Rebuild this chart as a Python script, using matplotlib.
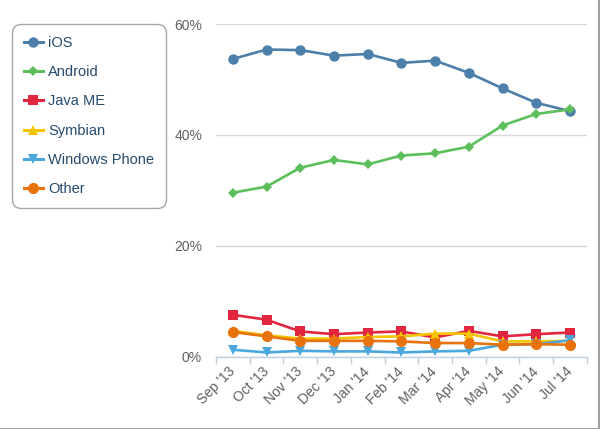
import matplotlib

matplotlib.use("Agg")
import matplotlib.pyplot as plt
from matplotlib.lines import Line2D

plt.rcParams["font.family"] = ["Liberation Sans", "DejaVu Sans"]

months = ["Sep '13", "Oct '13", "Nov '13", "Dec '13", "Jan '14", "Feb '14",
          "Mar '14", "Apr '14", "May '14", "Jun '14", "Jul '14"]

ios = [53.7, 55.4, 55.3, 54.3, 54.6, 53.0, 53.4, 51.2, 48.4, 45.8, 44.3]
android = [29.6, 30.7, 34.1, 35.5, 34.7, 36.3, 36.7, 37.9, 41.7, 43.8, 44.6]
java_me = [7.6, 6.7, 4.6, 4.1, 4.4, 4.6, 3.5, 4.7, 3.7, 4.1, 4.4]
symbian = [4.7, 3.9, 3.3, 3.3, 3.6, 3.7, 4.2, 4.2, 2.8, 2.8, 2.9]
windows_phone = [1.3, 0.8, 1.1, 1.0, 1.0, 0.8, 1.0, 1.1, 2.2, 2.3, 3.0]
other = [4.5, 3.7, 2.9, 2.9, 2.9, 2.8, 2.5, 2.5, 2.2, 2.3, 2.2]

series = [
    ("iOS", ios, "#4d7fab", "o", 7.5),
    ("Android", android, "#5cbf5c", "D", 5.0),
    ("Java ME", java_me, "#e2263f", "s", 7.0),
    ("Symbian", symbian, "#f5c400", "^", 7.5),
    ("Windows Phone", windows_phone, "#4aa8dc", "v", 7.5),
    ("Other", other, "#e8720c", "o", 8.0),
]

fig = plt.figure(figsize=(6.0, 4.29), dpi=100)
ax = fig.add_axes([0.36, 0.168, 0.618, 0.776])

x = list(range(len(months)))
handles = []
for name, vals, color, marker, ms in series:
    ax.plot(x, vals, color=color, lw=1.9, marker=marker, ms=ms,
            markeredgewidth=0, label=name, solid_joinstyle="round")
    handles.append(Line2D([0], [0], color=color, lw=2.2, marker=marker,
                          ms=ms, markeredgewidth=0))

ax.set_xlim(-0.5, len(months) - 0.5)
ax.set_ylim(0, 60)
ax.set_yticks([0, 20, 40, 60])
ax.set_yticklabels(["0%", "20%", "40%", "60%"])
ax.yaxis.grid(True, color="#d8d8d8", lw=1.0)
ax.set_axisbelow(True)

for side in ["top", "right", "left"]:
    ax.spines[side].set_visible(False)
ax.spines["bottom"].set_color("#c0d0e0")
ax.spines["bottom"].set_linewidth(1.0)

ax.set_xticks(x)
ax.set_xticklabels(months, rotation=45, ha="right", va="center",
                   rotation_mode="anchor", fontsize=10, color="#606060")
ax.set_xticks([i + 0.5 for i in range(-1, len(months))], minor=True)
ax.tick_params(axis="x", which="major", length=0, pad=9)
ax.tick_params(axis="x", which="minor", length=5, color="#c0d0e0", width=1)
ax.tick_params(axis="y", length=0, pad=10, labelsize=10, labelcolor="#606060")

leg = fig.legend(handles, [s[0] for s in series], loc="upper left",
                 bbox_to_anchor=(0.02, 0.944), borderaxespad=0.0,
                 frameon=True, fancybox=True, fontsize=10.5,
                 labelspacing=1.05, handlelength=1.3, handletextpad=0.4,
                 borderpad=0.8, labelcolor="#274b6d")
leg.get_frame().set_edgecolor("#909090")
leg.get_frame().set_linewidth(1.0)
leg.get_frame().set_boxstyle("round,pad=0.0,rounding_size=0.6")

# thin image border on right and bottom
fig.add_artist(Line2D([0, 1], [0.001, 0.001], color="#a0a0a0", lw=1.5,
                      transform=fig.transFigure))
fig.add_artist(Line2D([0.999, 0.999], [0, 1], color="#a0a0a0", lw=1.5,
                      transform=fig.transFigure))

fig.savefig("out.png", dpi=100)
